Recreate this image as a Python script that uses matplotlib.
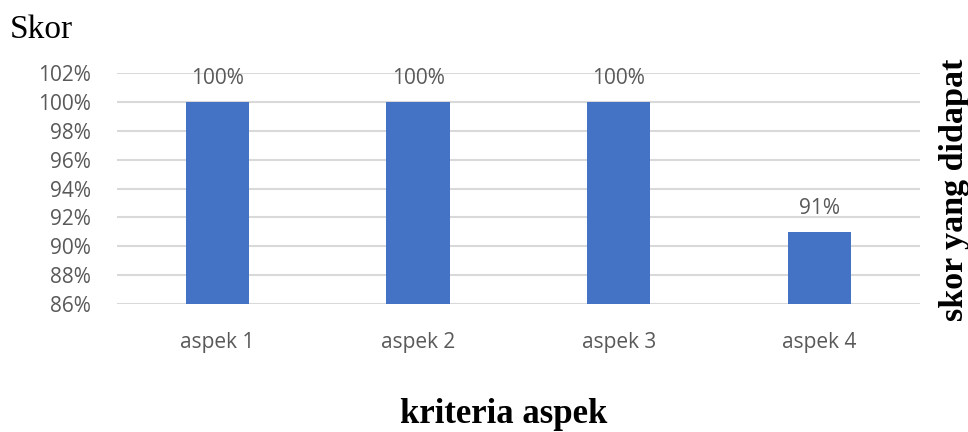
import numpy as np
import matplotlib.pyplot as plt

# data
categories = ["aspek 1", "aspek 2", "aspek 3", "aspek 4"]
scores = [100, 100, 100, 91]          # percent
y_ticks = [86, 88, 90, 92, 94, 96, 98, 100, 102]

fig = plt.figure(figsize=(9.68, 4.32), dpi=100)
ax = fig.add_axes([0.121, 0.296, 0.829, 0.535])

x = np.arange(len(categories))
ax.bar(x, scores, width=0.315, color="#4472C4", zorder=3)

lab_font = dict(fontsize=15, color="#595959", family="Open Sans")
for xi, v in zip(x, scores):
    ax.text(xi, v + 0.9, f"{v}%", ha="center", va="bottom", **lab_font)

ax.set_ylim(86, 102)
ax.set_xlim(-0.5, len(categories) - 0.5)
ax.set_yticks(y_ticks)
ax.set_yticklabels([f"{t}%" for t in y_ticks], **lab_font)
ax.set_xticks(x)
ax.set_xticklabels(categories, **lab_font)
ax.tick_params(axis="y", length=0, pad=19)
ax.tick_params(axis="x", length=0, pad=20)

ax.grid(axis="y", color="#d9d9d9", linewidth=1.5, zorder=0)
for s in ax.spines.values():
    s.set_visible(False)

fig.text(0.01, 0.93, "Skor", fontsize=24, family="Liberation Serif", va="center")
fig.text(0.52, 0.04, "kriteria aspek", fontsize=25, family="Liberation Serif",
         fontweight="bold", ha="center", va="center")
fig.text(0.986, 0.56, "skor yang didapat", fontsize=24.5, family="Liberation Serif",
         fontweight="bold", rotation=90, ha="center", va="center")

fig.savefig("out.png", dpi=100)
